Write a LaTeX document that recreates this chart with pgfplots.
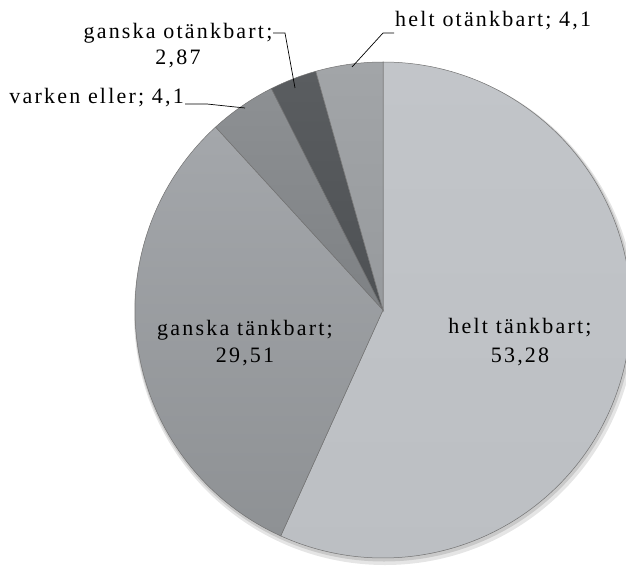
\documentclass[border=0pt]{standalone}
\usepackage{pgfplots}
\pgfplotsset{compat=1.18}
\usepackage{pgfplotstable}
\usepackage{fontspec}
\setmainfont[LetterSpace=10]{Liberation Serif}
\definecolor{slice0}{HTML}{C2C5C9}
\definecolor{slice1}{HTML}{A4A7AB}
\definecolor{slice2}{HTML}{8D9093}
\definecolor{slice3}{HTML}{5A5D60}
\definecolor{slice4}{HTML}{A2A5A8}
\definecolor{slicebot0}{HTML}{BCBFC3}
\definecolor{slicebot1}{HTML}{8E9194}
\definecolor{slicebot2}{HTML}{7E8184}
\definecolor{slicebot3}{HTML}{4E5154}
\definecolor{slicebot4}{HTML}{979A9D}
\pgfplotstableread[col sep=comma]{
label,value
helt tänkbart,53.28
ganska tänkbart,29.51
varken eller,4.1
ganska otänkbart,2.87
helt otänkbart,4.1
}\data
\begin{document}
\begin{tikzpicture}
\begin{axis}[
  width=626pt, height=566pt, scale only axis,
  xmin=0, xmax=626, ymin=0, ymax=566,
  hide axis, clip=false,
]
\coordinate (BL) at (axis cs:0,0);
\coordinate (TR) at (axis cs:626,566);
% total
\def\total{0}
\pgfplotsforeachungrouped \i in {0,...,4}{%
  \pgfplotstablegetelem{\i}{value}\of\data
  \pgfmathsetmacro{\total}{\total+\pgfplotsretval}%
}
% shadow
\fill[black, opacity=0.10] (axis cs:385,252) circle[radius=251pt];
\fill[black, opacity=0.12] (axis cs:384,254) circle[radius=249.5pt];
\def\cum{0}
\pgfplotsforeachungrouped \i in {0,...,4}{%
  \pgfplotstablegetelem{\i}{value}\of\data
  \pgfmathsetmacro{\sa}{90-\cum/\total*360}%
  \pgfmathsetmacro{\cumnew}{\cum+\pgfplotsretval}%
  \pgfmathsetmacro{\ea}{90-\cumnew/\total*360}%
  \let\cum\cumnew
  \edef\temp{\noexpand\shade[top color=slice\i, bottom color=slicebot\i, draw=black!55, line width=0.5pt]
    (axis cs:383,256) -- ([shift={(\sa:248pt)}]axis cs:383,256)
    arc[start angle=\sa, end angle=\ea, radius=248pt] -- cycle;}%
  \temp
}
% labels
\node[anchor=base, font=\fontsize{22}{27}\selectfont, inner sep=0pt] at (axis cs:178,527) {ganska otänkbart;};
\node[anchor=base, font=\fontsize{22}{27}\selectfont, inner sep=0pt] at (axis cs:178,501) {2,87};
\node[anchor=base east, font=\fontsize{22}{27}\selectfont, inner sep=0pt] at (axis cs:184,462) {varken eller; 4,1};
\node[anchor=base west, font=\fontsize{22}{27}\selectfont, inner sep=0pt] at (axis cs:395,539) {helt otänkbart; 4,1};
\node[anchor=base, font=\fontsize{22}{27}\selectfont, inner sep=0pt] at (axis cs:245,231) {ganska tänkbart;};
\node[anchor=base, font=\fontsize{22}{27}\selectfont, inner sep=0pt] at (axis cs:245,204) {29,51};
\node[anchor=base, font=\fontsize{22}{27}\selectfont, inner sep=0pt] at (axis cs:520,233) {helt tänkbart;};
\node[anchor=base, font=\fontsize{22}{27}\selectfont, inner sep=0pt] at (axis cs:520,204) {53,28};
% leader lines
\draw[black, line width=0.7pt] (axis cs:352,499) -- (axis cs:383,533) -- (axis cs:394,533);
\draw[black, line width=0.7pt] (axis cs:273,533) -- (axis cs:285,533) -- (axis cs:295,478);
\draw[black, line width=0.7pt] (axis cs:185,462) -- (axis cs:207,462) -- (axis cs:245,458);
\end{axis}
\pgfresetboundingbox
\path (BL) rectangle (TR);
\end{tikzpicture}
\end{document}
